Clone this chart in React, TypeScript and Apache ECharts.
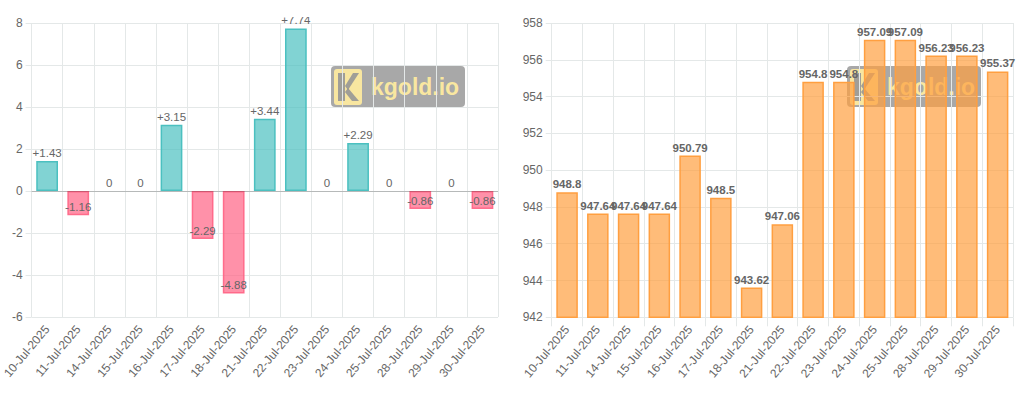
import React, { useEffect, useRef } from "react";
import * as echarts from "echarts";

const dates = [
  "10-Jul-2025", "11-Jul-2025", "14-Jul-2025", "15-Jul-2025", "16-Jul-2025",
  "17-Jul-2025", "18-Jul-2025", "21-Jul-2025", "22-Jul-2025", "23-Jul-2025",
  "24-Jul-2025", "25-Jul-2025", "28-Jul-2025", "29-Jul-2025", "30-Jul-2025",
];
const changes = [1.43, -1.16, 0, 0, 3.15, -2.29, -4.88, 3.44, 7.74, 0, 2.29, 0, -0.86, 0, -0.86];
const prices = [948.8, 947.64, 947.64, 947.64, 950.79, 948.5, 943.62, 947.06, 954.8, 954.8, 957.09, 957.09, 956.23, 956.23, 955.37];

const FONT = "'Liberation Sans', Arial, Helvetica, sans-serif";
const GRID_COLOR = "#e4e8e8";
const TEXT = "#666";

function watermark(x: number, y: number) {
  return {
    type: "group",
    x,
    y,
    z: 1,
    silent: true,
    children: [
      { type: "rect", shape: { x: 0, y: 0, width: 134, height: 41, r: 4 }, style: { fill: "rgba(105,105,105,0.58)" } },
      { type: "rect", shape: { x: 3, y: 3, width: 28, height: 36, r: 3 }, style: { fill: "rgba(255,236,160,0.92)" } },
      { type: "polygon", shape: { points: [[7, 7], [14, 7], [14, 35], [7, 35]] }, style: { fill: "rgba(150,150,150,0.9)" } },
      { type: "polygon", shape: { points: [[14, 20], [22, 7], [28, 7], [17, 24]] }, style: { fill: "rgba(150,150,150,0.9)" } },
      { type: "polygon", shape: { points: [[17, 22], [28, 35], [21, 35], [14, 26]] }, style: { fill: "rgba(150,150,150,0.9)" } },
      {
        type: "text",
        x: 40,
        y: 21,
        style: {
          text: "kgold.io",
          fill: "rgba(255,236,160,0.95)",
          font: `bold 23px ${FONT}`,
          verticalAlign: "middle",
        },
      },
    ],
  };
}

export default function App() {
  const ref = useRef<HTMLDivElement>(null);

  useEffect(() => {
    if (!ref.current) return;
    const chart = echarts.init(ref.current, undefined, { renderer: "svg" });

    const xAxisBase = (gridIndex: number) => ({
      type: "category",
      gridIndex,
      data: dates,
      boundaryGap: true,
      axisLine: { show: false },
      axisTick: { show: true, length: 9, lineStyle: { color: GRID_COLOR } },
      splitLine: { show: true, lineStyle: { color: GRID_COLOR } },
      axisLabel: { interval: 0, rotate: 50, fontSize: 12, color: TEXT, fontFamily: FONT, margin: 10 },
    });

    const yAxisBase = (gridIndex: number, min: number, max: number) => ({
      type: "value",
      gridIndex,
      min,
      max,
      interval: 2,
      axisLine: { show: false },
      axisTick: { show: true, length: 6, lineStyle: { color: GRID_COLOR } },
      splitLine: { show: true, lineStyle: { color: GRID_COLOR } },
      axisLabel: { fontSize: 12, color: TEXT, fontFamily: FONT, margin: 9 },
    });

    const changeData = changes.map((v) => {
      const neg = v < 0;
      return {
        value: v,
        itemStyle: {
          color: neg ? "rgba(255,99,132,0.7)" : "rgba(75,192,192,0.7)",
          borderColor: neg ? "rgba(255,99,132,0.9)" : "rgba(75,192,192,1)",
          borderWidth: v === 0 ? 0 : 1.5,
        },
        label: neg ? { position: "insideBottom", distance: 2 } : { position: "top", distance: 2 },
      };
    });

    chart.setOption({
      animation: false,
      grid: [
        { left: 27.3, top: 5.7, width: 470.7, height: 294.3 },
        { left: 551.7, top: 5.7, width: 461.3, height: 294.6 },
      ],
      xAxis: [xAxisBase(0), xAxisBase(1)],
      yAxis: [yAxisBase(0, -6, 8), yAxisBase(1, 942, 958)],
      graphic: [watermark(331, 49), watermark(847, 49)],
      series: [
        {
          type: "bar",
          xAxisIndex: 0,
          yAxisIndex: 0,
          barWidth: "70%",
          data: changeData,
          label: {
            show: true,
            color: TEXT,
            fontSize: 11.5,
            fontFamily: FONT,
            formatter: (p: any) => (p.value > 0 ? "+" + p.value : String(p.value)),
          },
          markLine: {
            silent: true,
            symbol: ["none", "none"],
            label: { show: false },
            lineStyle: { color: "rgba(0,0,0,0.2)", type: "solid", width: 1 },
            data: [{ yAxis: 0 }],
          },
        },
        {
          type: "bar",
          xAxisIndex: 1,
          yAxisIndex: 1,
          barWidth: "70%",
          data: prices,
          itemStyle: {
            color: "rgba(255,159,64,0.7)",
            borderColor: "rgba(255,159,64,1)",
            borderWidth: 1.5,
          },
          label: {
            show: true,
            position: "top",
            distance: 2,
            color: TEXT,
            fontSize: 11.5,
            fontWeight: "bold",
            fontFamily: FONT,
          },
        },
      ],
    });

    return () => chart.dispose();
  }, []);

  return (
    <div
      ref={ref}
      style={{ position: "absolute", left: 0, top: 17, width: 1024, height: 377 }}
    />
  );
}
